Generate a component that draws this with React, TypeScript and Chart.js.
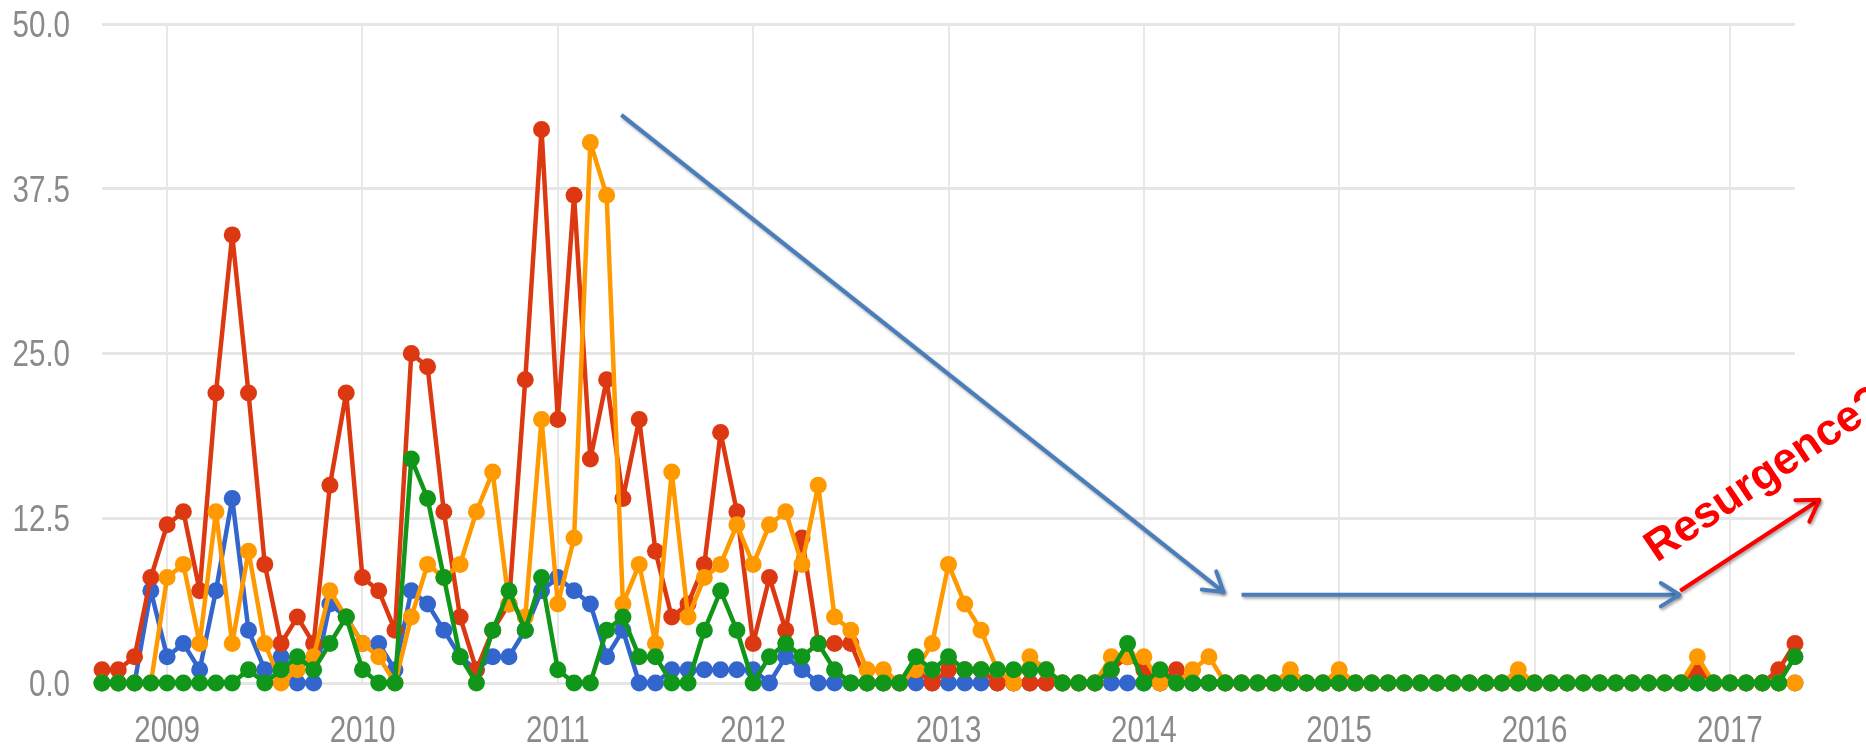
import React, { useEffect, useRef } from 'react';
import { Chart, registerables } from 'chart.js';

Chart.register(...registerables);

// Monthly series: index 0 = Sep 2008 ... index 104 = May 2017
const yearLabels = ['2009', '2010', '2011', '2012', '2013', '2014', '2015', '2016', '2017'];
const yearTickIndex = [4, 16, 28, 40, 52, 64, 76, 88, 100];
const yTickValues = [0, 12.5, 25, 37.5, 50];

const blueSeries = [
  0, 0, 0, 7, 2, 3, 1, 7, 14, 4,
  1, 2, 0, 0, 6, 5, 3, 3, 1, 7,
  6, 4, 2, 1, 2, 2, 4, 7, 8, 7,
  6, 2, 4, 0, 0, 1, 1, 1, 1, 1,
  1, 0, 2, 1, 0, 0, 0, 0, 0, 0,
  0, 0, 0, 0, 0, 0, 0, 0, 0, 0,
  0, 0, 0, 0, 0, 0, 0, 0, 0, 0,
  0, 0, 0, 0, 0, 0, 0, 0, 0, 0,
  0, 0, 0, 0, 0, 0, 0, 0, 0, 0,
  0, 0, 0, 0, 0, 0, 0, 0, 0, 0,
  0, 0, 0, 0, 0,
];

const redSeries = [
  1, 1, 2, 8, 12, 13, 7, 22, 34, 22,
  9, 3, 5, 3, 15, 22, 8, 7, 4, 25,
  24, 13, 5, 1, 4, 6, 23, 42, 20, 37,
  17, 23, 14, 20, 10, 5, 6, 9, 19, 13,
  3, 8, 4, 11, 3, 3, 3, 0, 0, 0,
  1, 0, 1, 1, 1, 0, 0, 0, 0, 0,
  0, 0, 1, 2, 1, 0, 1, 0, 0, 0,
  0, 0, 0, 0, 0, 0, 0, 0, 0, 0,
  0, 0, 0, 0, 0, 0, 0, 0, 0, 0,
  0, 0, 0, 0, 0, 0, 0, 0, 1, 0,
  0, 0, 0, 1, 3,
];

const orangeSeries = [
  0, 0, 0, 0, 8, 9, 3, 13, 3, 10,
  3, 0, 1, 2, 7, 5, 3, 2, 0, 5,
  9, 8, 9, 13, 16, 6, 5, 20, 6, 11,
  41, 37, 6, 9, 3, 16, 5, 8, 9, 12,
  9, 12, 13, 9, 15, 5, 4, 1, 1, 0,
  1, 3, 9, 6, 4, 1, 0, 2, 1, 0,
  0, 0, 2, 2, 2, 0, 0, 1, 2, 0,
  0, 0, 0, 1, 0, 0, 1, 0, 0, 0,
  0, 0, 0, 0, 0, 0, 0, 1, 0, 0,
  0, 0, 0, 0, 0, 0, 0, 0, 2, 0,
  0, 0, 0, 0, 0,
];

const greenSeries = [
  0, 0, 0, 0, 0, 0, 0, 0, 0, 1,
  0, 1, 2, 1, 3, 5, 1, 0, 0, 17,
  14, 8, 2, 0, 4, 7, 4, 8, 1, 0,
  0, 4, 5, 2, 2, 0, 0, 4, 7, 4,
  0, 2, 3, 2, 3, 1, 0, 0, 0, 0,
  2, 1, 2, 1, 1, 1, 1, 1, 1, 0,
  0, 0, 1, 3, 0, 1, 0, 0, 0, 0,
  0, 0, 0, 0, 0, 0, 0, 0, 0, 0,
  0, 0, 0, 0, 0, 0, 0, 0, 0, 0,
  0, 0, 0, 0, 0, 0, 0, 0, 0, 0,
  0, 0, 0, 0, 2,
];

const seriesColors = { blue: '#3366cc', red: '#dc3912', orange: '#ff9900', green: '#109618' };

// Annotation arrows in data coordinates (month index, value)
const arrows = [
  { color: '#4a7ebb', from: [31.9, 43.1], to: [68.9, 6.9], head: 22 },
  { color: '#4a7ebb', from: [70.0, 6.7], to: [96.9, 6.7], head: 22 },
  { color: '#ff0000', from: [96.95, 7.0], to: [105.5, 13.9], head: 24 },
];
const noteText = 'Resurgence?';
const notePos = [95.5, 9.1];
const noteAngleDeg = -34;

const labelFont = "36px 'Liberation Sans', Arial, sans-serif";
const labelColor = '#8a8a8a';
const labelSqueeze = 0.82;

const toPoints = (arr: number[]) => arr.map((v, i) => ({ x: i, y: v }));

const tickLabelPlugin = {
  id: 'tickLabels',
  afterDraw(chart: any) {
    const { ctx, scales } = chart;
    const xs = scales.x;
    const ys = scales.y;
    ctx.save();
    ctx.font = labelFont;
    ctx.fillStyle = labelColor;
    ctx.textBaseline = 'alphabetic';
    for (const v of yTickValues) {
      const py = ys.getPixelForValue(v);
      const txt = v.toFixed(1);
      const w = ctx.measureText(txt).width * labelSqueeze;
      const right = ys.right - 32;
      ctx.save();
      ctx.translate(right - w, py + 12.9);
      ctx.scale(labelSqueeze, 1);
      ctx.fillText(txt, 0, 0);
      ctx.restore();
    }
    yearTickIndex.forEach((v, i) => {
      const px = xs.getPixelForValue(v);
      const txt = yearLabels[i];
      const w = ctx.measureText(txt).width * labelSqueeze;
      ctx.save();
      ctx.translate(px - w / 2, xs.top + 59);
      ctx.scale(labelSqueeze, 1);
      ctx.fillText(txt, 0, 0);
      ctx.restore();
    });
    ctx.restore();
  },
};

const annotationPlugin = {
  id: 'annotations',
  afterDraw(chart: any) {
    const { ctx, scales } = chart;
    const xs = scales.x;
    const ys = scales.y;
    ctx.save();
    for (const a of arrows) {
      const x1 = xs.getPixelForValue(a.from[0]);
      const y1 = ys.getPixelForValue(a.from[1]);
      const x2 = xs.getPixelForValue(a.to[0]);
      const y2 = ys.getPixelForValue(a.to[1]);
      const ang = Math.atan2(y2 - y1, x2 - x1);
      ctx.shadowColor = 'rgba(0,0,0,0.35)';
      ctx.shadowBlur = 3;
      ctx.shadowOffsetX = 1.5;
      ctx.shadowOffsetY = 2;
      ctx.strokeStyle = a.color;
      ctx.lineWidth = 4;
      ctx.lineCap = 'butt';
      ctx.beginPath();
      ctx.moveTo(x1, y1);
      ctx.lineTo(x2, y2);
      ctx.stroke();
      const spread = (32 * Math.PI) / 180;
      ctx.lineCap = 'round';
      ctx.lineJoin = 'round';
      ctx.beginPath();
      ctx.moveTo(x2 - a.head * Math.cos(ang - spread), y2 - a.head * Math.sin(ang - spread));
      ctx.lineTo(x2, y2);
      ctx.lineTo(x2 - a.head * Math.cos(ang + spread), y2 - a.head * Math.sin(ang + spread));
      ctx.stroke();
    }
    ctx.shadowColor = 'transparent';
    const tx = xs.getPixelForValue(notePos[0]);
    const ty = ys.getPixelForValue(notePos[1]);
    ctx.translate(tx, ty);
    ctx.rotate((noteAngleDeg * Math.PI) / 180);
    ctx.fillStyle = '#ff0000';
    ctx.font = "bold 44px 'Liberation Sans', Arial, sans-serif";
    ctx.textBaseline = 'alphabetic';
    ctx.textAlign = 'left';
    ctx.fillText(noteText, 0, 0);
    ctx.restore();
  },
};

export default function App() {
  const canvasRef = useRef<HTMLCanvasElement | null>(null);

  useEffect(() => {
    const canvas = canvasRef.current;
    if (!canvas) return;
    const mk = (label: string, data: number[], color: string, order: number) => ({
      label,
      data: toPoints(data),
      borderColor: color,
      backgroundColor: color,
      pointBackgroundColor: color,
      pointBorderColor: color,
      pointBorderWidth: 0,
      pointRadius: 8.5,
      borderWidth: 4.5,
      borderJoinStyle: 'round',
      tension: 0,
      clip: false,
      order,
    });
    const chart = new Chart(canvas, {
      type: 'line',
      data: {
        datasets: [
          mk('blue', blueSeries, seriesColors.blue, 4),
          mk('red', redSeries, seriesColors.red, 3),
          mk('orange', orangeSeries, seriesColors.orange, 2),
          mk('green', greenSeries, seriesColors.green, 1),
        ] as any,
      },
      options: {
        animation: false,
        responsive: false,
        maintainAspectRatio: false,
        layout: { padding: { top: 24, right: 71, left: 0, bottom: 0 } },
        plugins: { legend: { display: false }, tooltip: { enabled: false } },
        scales: {
          x: {
            type: 'linear',
            min: 0,
            max: 104,
            afterBuildTicks: (scale: any) => {
              scale.ticks = yearTickIndex.map((v) => ({ value: v }));
            },
            afterFit: (scale: any) => {
              scale.height = 66;
              scale.paddingLeft = 0;
              scale.paddingRight = 0;
            },
            ticks: { display: false },
            grid: { color: '#e8e8e8', lineWidth: 2, drawTicks: false },
            border: { display: false },
          },
          y: {
            type: 'linear',
            min: 0,
            max: 50,
            afterBuildTicks: (scale: any) => {
              scale.ticks = yTickValues.map((v) => ({ value: v }));
            },
            afterFit: (scale: any) => {
              scale.width = 102;
              scale.paddingTop = 0;
              scale.paddingBottom = 0;
            },
            ticks: { display: false },
            grid: { color: '#e6e6e6', lineWidth: 3, drawTicks: false },
            border: { display: false },
          },
        },
      },
      plugins: [tickLabelPlugin, annotationPlugin],
    } as any);
    return () => chart.destroy();
  }, []);

  return (
    <div style={{ position: 'fixed', left: 0, top: 0, width: 1866, height: 749, background: '#fff' }}>
      <canvas ref={canvasRef} width={1866} height={749} style={{ width: 1866, height: 749, display: 'block' }} />
    </div>
  );
}
